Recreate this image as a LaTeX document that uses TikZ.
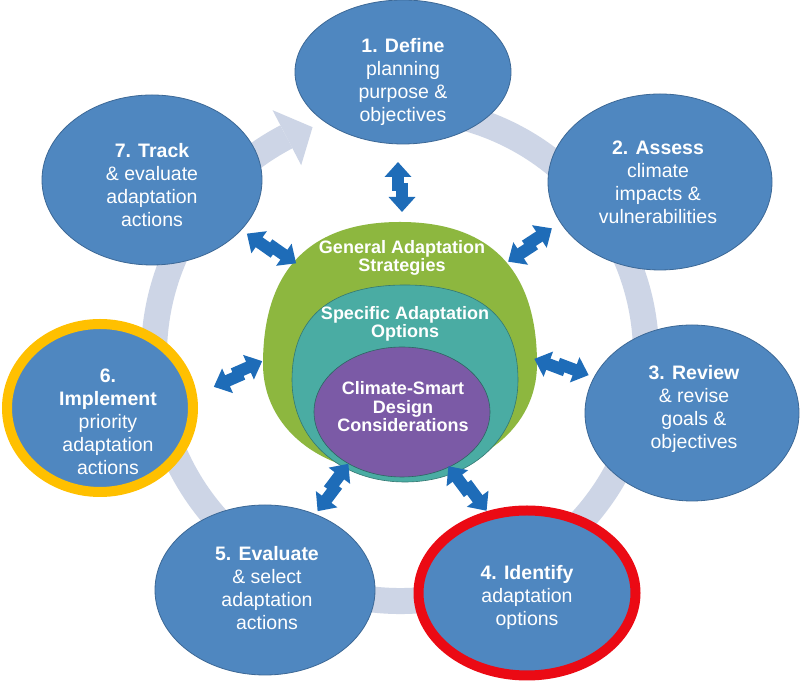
\documentclass[tikz,border=0pt]{standalone}
\usepackage{fontspec}
\setmainfont{Liberation Sans}
\usetikzlibrary{shapes.geometric,arrows.meta,calc}
\definecolor{ellfill}{RGB}{79,135,192}
\definecolor{ellline}{RGB}{60,104,150}
\definecolor{ringcol}{RGB}{205,213,230}
\definecolor{arrblue}{RGB}{30,108,184}
\definecolor{cgreen}{RGB}{141,183,63}
\definecolor{cteal}{RGB}{74,172,163}
\definecolor{cpurple}{RGB}{123,90,166}
\definecolor{redring}{RGB}{235,10,20}
\definecolor{yelring}{RGB}{255,192,0}
\tikzset{
  stage/.style={ellipse, fill=ellfill, draw=ellline, line width=0.8pt, inner sep=0pt},
  stagetext/.style={text=white, align=center, inner sep=0pt, font=\fontsize{19.5}{23}\selectfont},
  coretext/.style={text=white, align=center, inner sep=0pt, font=\fontsize{18}{18.5}\selectfont\bfseries},
  core/.style={ellipse, inner sep=0pt},
  bshaft/.style={draw=arrblue, line width=12pt, -{Triangle[width=26pt,length=15pt]}},
  ringband/.style={draw=ringcol, line width=26pt}
}
\newcommand\twoway[2]{%
  \draw[bshaft] ($(#1)!0.42!(#2)!2pt!90:(#2)$) -- ($(#2)!2pt!-90:(#1)$);
  \draw[bshaft] ($(#2)!0.42!(#1)!2pt!90:(#1)$) -- ($(#1)!2pt!-90:(#2)$);
}
\begin{document}
\begin{tikzpicture}[x=1pt,y=1pt]
\useasboundingbox (0,0) rectangle (800,684);
\fill[white] (0,0) rectangle (800,684);

% cycle ring
\coordinate (C) at (400,329);
\draw[ringband] ($(C)+(80:246pt)$) arc[start angle=80, end angle=-242.5, radius=246pt];
\fill[ringcol] ($(C)+(117.5:214pt)$) -- ($(C)+(111:244pt)$) -- ($(C)+(117.5:276pt)$) -- cycle;

% stages
\node[stage, minimum width=216pt, minimum height=144pt] (s1) at (403,612) {};
\node[stage, minimum width=224pt, minimum height=176pt] (s2) at (660,502) {};
\node[stage, minimum width=214pt, minimum height=176pt] (s3) at (692,271) {};
\node[stage, draw=redring, line width=10pt, minimum width=217pt, minimum height=165pt] (s4) at (527,91) {};
\node[stage, minimum width=220pt, minimum height=170pt] (s5) at (265,94) {};
\node[stage, draw=yelring, line width=10pt, minimum width=186pt, minimum height=168pt] (s6) at (100,276) {};
\node[stage, minimum width=220pt, minimum height=170pt] (s7) at (152,504) {};

\node[stagetext] (t1) at (403,602) {\textbf{1. Define}\\planning\\purpose \&\\objectives};
\node[stagetext] (t2) at (658,502) {\textbf{2. Assess}\\climate\\impacts \&\\vulnerabilities};
\node[stagetext] (t3) at (694,275) {\textbf{3. Review}\\\& revise\\goals \&\\objectives};
\node[stagetext] (t4) at (527,87) {\textbf{4. Identify}\\adaptation\\options};
\node[stagetext] (t5) at (267,96) {\textbf{5. Evaluate}\\\& select\\adaptation\\actions};
\node[stagetext] (t6) at (108,262) {\textbf{6.}\\\textbf{Implement}\\priority\\adaptation\\actions};
\node[stagetext] (t7) at (152,499) {\textbf{7. Track}\\\& evaluate\\adaptation\\actions};

% core: general (green), specific (teal), design (purple)
\fill[cgreen] (537,320) .. controls (537,413.7) and (490.4,462) .. (400,462)
   .. controls (309.6,462) and (263,413.7) .. (263,320)
   .. controls (263,256.2) and (320.5,210) .. (400,210)
   .. controls (479.5,210) and (537,256.2) .. (537,320) -- cycle;
\draw[fill=cteal, draw=cteal!70!black, line width=0.6pt]
   (518,304) .. controls (518,366.7) and (479.6,399) .. (405,399)
   .. controls (330.4,399) and (292,366.7) .. (292,304)
   .. controls (292,244.8) and (339.5,202) .. (405,202)
   .. controls (470.5,202) and (518,244.8) .. (518,304) -- cycle;
\node[core, fill=cpurple, draw=cteal!60!black, line width=0.6pt, minimum width=176pt, minimum height=130pt] (pu) at (402,272) {};
\node[coretext] (gt) at (402,426) {General Adaptation\\Strategies};
\node[coretext] (tt) at (405,360) {Specific Adaptation\\Options};
\node[coretext] (pt) at (403,277) {Climate-Smart\\Design\\Considerations};

% two-way arrows
\coordinate (c1) at (400,472); \coordinate (e1) at (400,522);
\coordinate (c2) at (507,424); \coordinate (e2) at (553,454);
\coordinate (c3) at (535,327); \coordinate (e3) at (588,307);
\coordinate (c4) at (450,219); \coordinate (e4) at (485,172);
\coordinate (c5) at (350,219); \coordinate (e5) at (316,174);
\coordinate (c6) at (263,321); \coordinate (e6) at (213,299);
\coordinate (c7) at (295,419); \coordinate (e7) at (248,452);
\twoway{c1}{e1}
\twoway{c2}{e2}
\twoway{c3}{e3}
\twoway{c4}{e4}
\twoway{c5}{e5}
\twoway{c6}{e6}
\twoway{c7}{e7}
\end{tikzpicture}
\end{document}
